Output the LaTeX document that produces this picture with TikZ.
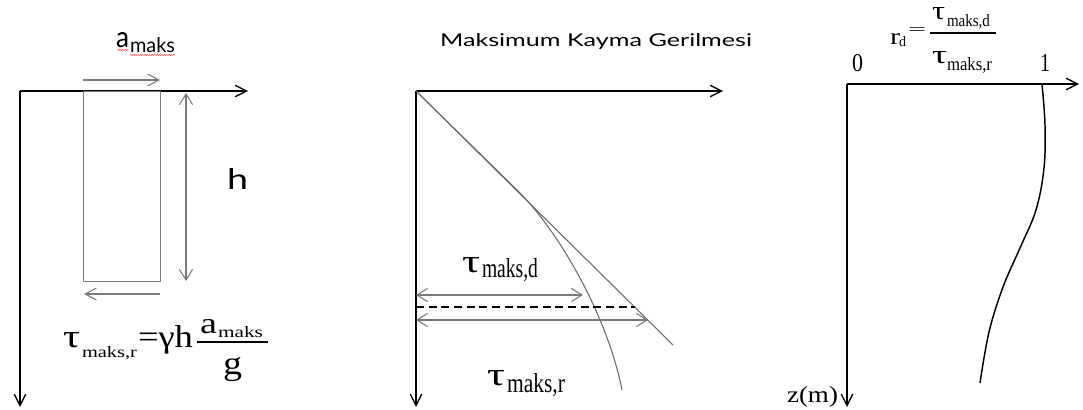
\documentclass[tikz,border=0pt]{standalone}
\usepackage{fontspec}
\usepackage{graphicx}
\usetikzlibrary{arrows.meta,decorations.pathmorphing}
\newfontfamily\tnr{Liberation Serif}
\newfontfamily\gs{Lato}
\newlength\pxu \setlength\pxu{0.75pt}
\newcommand\rb[3]{\resizebox{#1\pxu}{#2\pxu}{#3}}
\definecolor{linegray}{HTML}{7A7A7A}
\definecolor{curvegray}{HTML}{6A6A6A}
\tikzset{
  axis/.style={line width=1.3pt, black, -{Straight Barb[length=8.5pt,width=8.5pt,line width=1pt]}},
  grayline/.style={line width=0.8pt, linegray},
  grayarrow/.style={line width=0.8pt, linegray, -{Straight Barb[length=8.5pt,width=9pt,line width=0.8pt]}},
  grayboth/.style={line width=0.8pt, linegray, {Straight Barb[length=8pt,width=10pt,line width=0.8pt]}-{Straight Barb[length=8pt,width=10pt,line width=0.8pt]}},
  thincurve/.style={line width=0.8pt, curvegray},
  txt/.style={inner sep=0pt, outer sep=0pt, anchor=base west},
  squig/.style={red!80!white, line width=0.35pt, decorate, decoration={snake, amplitude=0.45pt, segment length=1.8pt}}
}
\begin{document}
\begin{tikzpicture}[x=0.75pt,y=-0.75pt]
\useasboundingbox (0,0) rectangle (1083,410);
% ---------------- Left panel ----------------
\coordinate (LO) at (20,91);
\coordinate (LX) at (248,91);
\coordinate (LY) at (20,407);
\draw[axis] (LO) -- (LX);
\draw[axis] (LO) -- (LY);
\node[grayline, draw, inner sep=0pt, minimum width=77\pxu, minimum height=190\pxu, anchor=north west] (rect) at (83,91) {};
\coordinate (ta1) at (83,80);
\coordinate (ta2) at (160,80);
\draw[grayarrow] (ta1) -- (ta2);
\coordinate (ba1) at (160,294);
\coordinate (ba2) at (84,294);
\draw[grayarrow] (ba1) -- (ba2);
\coordinate (h1) at (186,93);
\coordinate (h2) at (186,281);
\draw[grayboth] (h1) -- (h2);
\node[txt] (hlab) at (227,190) {\gs\rb{21}{21}{h}};
\node[txt] (amA) at (116,48) {\gs\rb{13}{15}{a}};
\node[txt] (amB) at (130,53) {\gs\rb{45}{15}{maks}};
\coordinate (sq1) at (117,50);
\coordinate (sq2) at (129,50);
\coordinate (sq3) at (130,55);
\coordinate (sq4) at (175,55);
\draw[squig] (sq1) -- (sq2);
\draw[squig] (sq3) -- (sq4);
% formula tau_maks,r = gamma h a_maks / g
\node[txt] (ltau) at (63,347) {\tnr\rb{17}{15}{τ}};
\node[txt] (lsub) at (82,357) {\tnr\rb{55}{11}{maks,r}};
\node[txt] (leq) at (138,347) {\tnr\rb{55}{22}{=γh}};
\node[txt] (lnuma) at (200,333) {\tnr\rb{17}{14}{a}};
\node[txt] (lnums) at (218,337) {\tnr\rb{45}{11}{maks}};
\coordinate (lb1) at (197,342);
\coordinate (lb2) at (268,342);
\draw[line width=0.9pt] (lb1) -- (lb2);
\node[txt] (lden) at (223,374) {\tnr\rb{19}{17}{g}};
% ---------------- Middle panel ----------------
\node[txt] (title) at (440,47) {\gs\rb{312}{13}{Maksimum Kayma Gerilmesi}};
\coordinate (MO) at (416,91);
\coordinate (MX) at (723,91);
\coordinate (MY) at (416,407);
\draw[axis] (MO) -- (MX);
\draw[axis] (MO) -- (MY);
\coordinate (Lend) at (673,345);
\draw[thincurve] (MO) -- (Lend);
\coordinate (Cs) at (517,190);
\coordinate (Ce) at (622,390);
\draw[thincurve] (MO) -- (Cs) .. controls (560,232) and (608,318) .. (Ce);
\coordinate (d1) at (416,295);
\coordinate (d2) at (583,295);
\draw[grayboth] (d1) -- (d2);
\coordinate (e1) at (416,307);
\coordinate (e2) at (635,307);
\draw[line width=1pt, black, dash pattern=on 6pt off 3.5pt] (e1) -- (e2);
\coordinate (f1) at (416,320);
\coordinate (f2) at (648,320);
\draw[grayboth] (f1) -- (f2);
\node[txt] (mtd) at (462,272) {\tnr\rb{18}{15}{τ}};
\node[txt] (mtds) at (482,277) {\tnr\rb{56}{19}{maks,d}};
\node[txt] (mtr) at (487,385) {\tnr\rb{18}{15}{τ}};
\node[txt] (mtrs) at (507,392) {\tnr\rb{58}{19}{maks,r}};
% ---------------- Right panel ----------------
\coordinate (RO) at (847,84);
\coordinate (RX) at (1079,84);
\coordinate (RY) at (847,407);
\draw[axis] (RO) -- (RX);
\draw[axis] (RO) -- (RY);
\draw[line width=1.1pt] plot[smooth, tension=0.6] coordinates {(1042,84) (1045,125) (1044,168) (1036,210) (1020,248) (1003,287) (989,332) (980,383)};
\node[txt] (zero) at (852,72) {\tnr\rb{11}{17}{0}};
\node[txt] (one) at (1040,72) {\tnr\rb{10}{17}{1}};
\node[txt] (zm) at (787,402) {\tnr\rb{51}{16}{z(m)}};
\node[txt] (rr) at (890,45) {\tnr\rb{10}{11}{r}};
\node[txt] (rd) at (899,47) {\tnr\rb{7}{10}{d}};
\node[txt] (req) at (908,35) {\tnr\rb{18}{7}{=}};
\coordinate (rb1) at (930,33);
\coordinate (rb2) at (996,33);
\draw[line width=0.8pt] (rb1) -- (rb2);
\node[txt] (rnt) at (932,20) {\tnr\rb{13}{12}{τ}};
\node[txt] (rns) at (947,27) {\tnr\rb{43}{12}{maks,d}};
\node[txt] (rdt) at (932,64) {\tnr\rb{15}{12}{τ}};
\node[txt] (rds) at (947,71) {\tnr\rb{45}{13}{maks,r}};
\end{tikzpicture}
\end{document}
